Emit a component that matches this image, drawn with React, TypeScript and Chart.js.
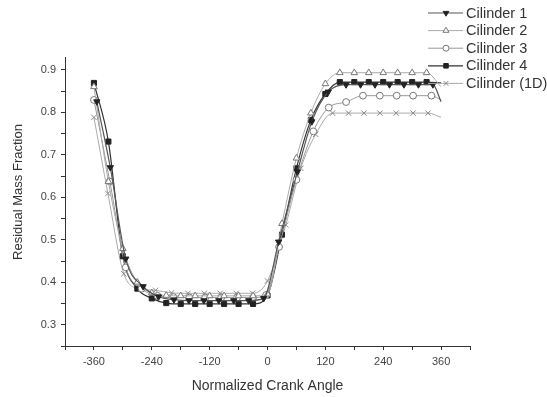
import React, { useEffect, useRef } from 'react';
import { Chart, registerables } from 'chart.js';
import { drawPoint } from 'chart.js/helpers';

Chart.register(...registerables);

// ---- data ----
const SERIES_NAMES = ['Cilinder 1', 'Cilinder 2', 'Cilinder 3', 'Cilinder 4', 'Cilinder (1D)'];

const C1_ANGLES = [-354, -326, -294, -258, -226, -194, -163, -132, -101, -70, -39, -8, 23, 62, 92, 126, 163, 193, 223, 253, 283, 313, 343, 360];
const C1_VALUES = [0.825, 0.670, 0.455, 0.390, 0.366, 0.359, 0.357, 0.357, 0.357, 0.357, 0.357, 0.362, 0.495, 0.660, 0.778, 0.848, 0.865, 0.865, 0.865, 0.865, 0.865, 0.865, 0.865, 0.825];

const C2_ANGLES = [-360, -330, -300, -270, -240, -210, -180, -150, -120, -90, -60, -30, 0, 30, 60, 90, 120, 150, 180, 210, 240, 270, 300, 330, 360];
const C2_VALUES = [0.860, 0.637, 0.479, 0.400, 0.375, 0.369, 0.368, 0.368, 0.368, 0.368, 0.368, 0.368, 0.372, 0.538, 0.692, 0.798, 0.867, 0.893, 0.893, 0.893, 0.893, 0.893, 0.893, 0.893, 0.860];

const C3_ANGLES = [-360, -327, -294, -261, -228, -195, -162, -129, -96, -63, -30, -3, 24, 60, 95, 127, 163, 198, 233, 268, 302, 340, 360];
const C3_VALUES = [0.829, 0.637, 0.435, 0.385, 0.368, 0.365, 0.364, 0.364, 0.364, 0.364, 0.364, 0.370, 0.483, 0.641, 0.755, 0.811, 0.824, 0.839, 0.839, 0.839, 0.839, 0.839, 0.829];

const C4_ANGLES = [-360, -330, -300, -270, -240, -210, -180, -150, -120, -90, -60, -30, 0, 30, 60, 90, 120, 150, 180, 210, 240, 270, 300, 330, 360];
const C4_VALUES = [0.869, 0.731, 0.461, 0.385, 0.362, 0.351, 0.349, 0.349, 0.349, 0.349, 0.349, 0.349, 0.369, 0.512, 0.668, 0.782, 0.843, 0.871, 0.871, 0.871, 0.871, 0.871, 0.871, 0.871, 0.869];

const D1_ANGLES = [-360, -331, -298, -266, -232, -199, -165, -131, -98, -65, -31, 0, 38, 69, 100, 135, 168, 200, 233, 267, 302, 333, 360];
const D1_VALUES = [0.788, 0.609, 0.420, 0.385, 0.381, 0.375, 0.374, 0.374, 0.374, 0.374, 0.374, 0.403, 0.535, 0.668, 0.748, 0.798, 0.798, 0.798, 0.798, 0.798, 0.798, 0.798, 0.788];

const X_LABELED_TICKS = [-360, -240, -120, 0, 120, 240, 360];
const Y_LABELED_TICKS = [0.3, 0.4, 0.5, 0.6, 0.7, 0.8, 0.9];

const X_TITLE = 'Normalized Crank Angle';
const Y_TITLE = 'Residual Mass Fraction';

const FONT = "'Liberation Sans', Arial, sans-serif";

const toPoints = (a: number[], v: number[]) => a.map((x, i) => ({ x, y: v[i] }));

const hideLast = (r: number) => (ctx: any) =>
  ctx.dataIndex === ctx.dataset.data.length - 1 ? 0 : r;

const STYLES = [
  { line: '#555', pbg: '#222', pbd: '#222', style: 'triangle', rot: 180, r: 3.6, bw: 1.2 },
  { line: '#aaa', pbg: '#fff', pbd: '#777', style: 'triangle', rot: 0, r: 3.8, bw: 1 },
  { line: '#999', pbg: '#fff', pbd: '#777', style: 'circle', rot: 0, r: 3.4, bw: 1 },
  { line: '#333', pbg: '#222', pbd: '#222', style: 'rect', rot: 0, r: 3.6, bw: 1.2 },
  { line: '#aaa', pbg: '#fff', pbd: '#888', style: 'crossRot', rot: 0, r: 3.8, bw: 1 },
];

const SERIES_DATA = [
  toPoints(C1_ANGLES, C1_VALUES),
  toPoints(C2_ANGLES, C2_VALUES),
  toPoints(C3_ANGLES, C3_VALUES),
  toPoints(C4_ANGLES, C4_VALUES),
  toPoints(D1_ANGLES, D1_VALUES),
];

const overlayPlugin = {
  id: 'overlay',
  afterDraw(chart: any) {
    const ctx = chart.ctx as CanvasRenderingContext2D;
    // legend
    SERIES_NAMES.forEach((name, i) => {
      const s = STYLES[i];
      const y = 13 + 17.6 * i;
      ctx.save();
      ctx.strokeStyle = s.line;
      ctx.lineWidth = s.bw;
      ctx.beginPath();
      ctx.moveTo(428, y);
      ctx.lineTo(463, y);
      ctx.stroke();
      ctx.fillStyle = s.pbg;
      ctx.strokeStyle = s.pbd;
      ctx.lineWidth = 1;
      drawPoint(ctx, { pointStyle: s.style, rotation: s.rot, radius: s.r - 0.4, borderWidth: 1 } as any, 446, y);
      ctx.fillStyle = '#333';
      ctx.font = `14.5px ${FONT}`;
      ctx.textAlign = 'left';
      ctx.textBaseline = 'middle';
      ctx.fillText(name, 466, y + 0.5);
      ctx.restore();
    });
    // axis titles
    ctx.save();
    ctx.fillStyle = '#333';
    ctx.textAlign = 'center';
    ctx.textBaseline = 'middle';
    ctx.font = `14px ${FONT}`;
    const xs = chart.scales.x;
    ctx.fillText(X_TITLE, (xs.left + xs.right) / 2, 386);
    ctx.translate(18.5, 192);
    ctx.rotate(-Math.PI / 2);
    ctx.font = `13px ${FONT}`;
    ctx.fillText(Y_TITLE, 0, 0);
    ctx.restore();
  },
};

export default function App() {
  const ref = useRef<HTMLCanvasElement | null>(null);
  useEffect(() => {
    document.body.style.margin = '0';
    const canvas = ref.current!;
    const chart = new Chart(canvas, {
      type: 'line',
      data: {
        datasets: SERIES_NAMES.map((name, i) => ({
          label: name,
          data: SERIES_DATA[i],
          borderColor: STYLES[i].line,
          borderWidth: STYLES[i].bw,
          backgroundColor: STYLES[i].pbg,
          pointBackgroundColor: STYLES[i].pbg,
          pointBorderColor: STYLES[i].pbd,
          pointBorderWidth: 1,
          pointStyle: STYLES[i].style as any,
          pointRotation: STYLES[i].rot,
          pointRadius: hideLast(STYLES[i].r),
          pointHoverRadius: 0,
          cubicInterpolationMode: 'monotone',
          fill: false,
        })),
      },
      options: {
        animation: false,
        responsive: false,
        events: [],
        layout: { padding: { left: 0, top: 57, right: 77, bottom: 0 } },
        plugins: { legend: { display: false }, tooltip: { enabled: false } },
        scales: {
          x: {
            type: 'linear',
            min: -420,
            max: 420,
            afterFit: (s: any) => { s.height = 51; },
            border: { display: true, color: '#333', width: 1 },
            grid: { display: true, drawOnChartArea: false, drawTicks: true, tickLength: 4, color: '#333' },
            ticks: {
              stepSize: 60,
              autoSkip: false,
              maxRotation: 0,
              padding: 5,
              color: '#444',
              font: { family: FONT, size: 11 },
              callback: (v: any) => (X_LABELED_TICKS.includes(Math.round(v)) ? String(Math.round(v)) : ''),
            },
          },
          y: {
            type: 'linear',
            min: 0.25,
            max: 0.93,
            afterFit: (s: any) => { s.width = 65; },
            border: { display: true, color: '#333', width: 1 },
            grid: { display: true, drawOnChartArea: false, drawTicks: true, tickLength: 4, color: '#333' },
            ticks: {
              stepSize: 0.05,
              includeBounds: false,
              autoSkip: false,
              padding: 5,
              color: '#444',
              font: { family: FONT, size: 11 },
              callback: (v: any) => {
                const r = Math.round(v * 100) / 100;
                return Y_LABELED_TICKS.some((t) => Math.abs(t - r) < 1e-6) ? r.toFixed(1) : '';
              },
            },
          },
        },
      },
      plugins: [overlayPlugin],
    });
    return () => chart.destroy();
  }, []);
  return <canvas ref={ref} width={547} height={397} style={{ display: 'block' }} />;
}
